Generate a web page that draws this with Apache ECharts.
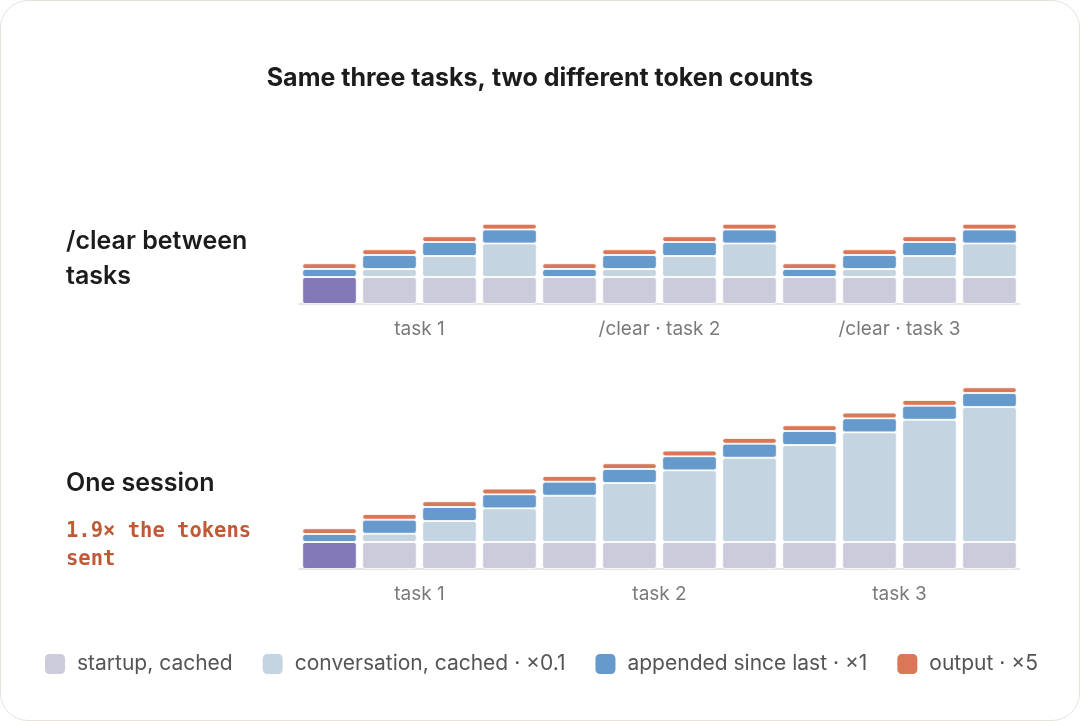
<!DOCTYPE html>
<html>
<head>
<meta charset="utf-8">
<script src="https://cdn.jsdelivr.net/npm/echarts@6/dist/echarts.min.js"></script>
<style>
  html, body { margin: 0; padding: 0; background: #ffffff; }
  #card {
    position: absolute; left: 0; top: 0; width: 1080px; height: 721px;
    box-sizing: border-box; border: 1.5px solid #e5e3da; border-radius: 28px;
  }
  #report { position: absolute; left: 0; top: 0; width: 1080px; height: 721px; }
</style>
</head>
<body>
<div id="card"></div>
<div id="report"></div>
<script>
// one entry per request sent to the model
var steps = ['1', '2', '3', '4', '5', '6', '7', '8', '9', '10', '11', '12'];
var groupsClear = ['task 1', '/clear · task 2', '/clear · task 3'];
var groupsSession = ['task 1', 'task 2', 'task 3'];
var seriesNames = ['startup, cached', 'conversation, cached · ×0.1', 'appended since last · ×1', 'output · ×5'];

// weighted token cost of each part
var startup = [27, 27, 27, 27, 27, 27, 27, 27, 27, 27, 27, 27];
var clearConversation = [0, 8, 21, 33.5, 0, 8, 21, 33.5, 0, 8, 21, 33.5];
var clearAppended = [8, 14, 14, 14, 8, 14, 14, 14, 8, 14, 14, 14];
var sessionConversation = [0, 8.3, 21, 33.7, 46.3, 59, 71.7, 84.3, 97, 109.7, 122.3, 135];
var sessionAppended = [8, 14, 14, 14, 14, 14, 14, 14, 14, 14, 14, 14];
var output = [5.7, 5.7, 5.7, 5.7, 5.7, 5.7, 5.7, 5.7, 5.7, 5.7, 5.7, 5.7];

var colors = ['#cccbdc', '#c5d4e1', '#6699cc', '#d97757'];
var firstStartupColor = '#8379b8';
var font = 'Inter';

var myChart = echarts.init(document.getElementById('report'));

function startupData() {
	// the very first request pays for the uncached startup
	return startup.map(function(v, i) {
		return i === 0 ? { value: v, itemStyle: { color: firstStartupColor } } : v;
	});
}

function stackSeries(grid, stack, conversation, appended) {
	var parts = [startupData(), conversation, appended, output];
	return parts.map(function(d, k) {
		return {
			name: seriesNames[k],
			type: 'bar',
			stack: stack,
			xAxisIndex: grid * 2,
			yAxisIndex: grid,
			barWidth: 54.5,
			data: d,
			itemStyle: { color: colors[k], borderColor: '#ffffff', borderWidth: 0.85, borderRadius: 2.5 },
			emphasis: { disabled: true }
		};
	});
}

function barAxis(grid) {
	return {
		type: 'category', gridIndex: grid, data: steps,
		axisLine: { show: true, lineStyle: { color: '#e4e4e4', width: 2 } },
		axisTick: { show: false }, axisLabel: { show: false }
	};
}

function groupAxis(grid, names) {
	return {
		type: 'category', gridIndex: grid, data: names, position: 'bottom',
		axisLine: { show: false }, axisTick: { show: false },
		axisLabel: { margin: 16, fontFamily: font, fontSize: 19, color: '#7a7a7a' }
	};
}

var option = {
	animation: false,
	title: [
		{
			text: 'Same three tasks, two different token counts',
			left: 'center', top: 66, padding: 0,
			textStyle: { fontFamily: font, fontSize: 25, fontWeight: 700, color: '#1c1c1c' }
		},
		{
			text: '/clear between\ntasks',
			left: 66, top: 224, padding: 0,
			textStyle: { fontFamily: font, fontSize: 25, fontWeight: 600, color: '#1c1c1c', lineHeight: 35 }
		},
		{
			text: 'One session',
			left: 66, top: 466, padding: 0,
			textStyle: { fontFamily: font, fontSize: 25, fontWeight: 600, color: '#1c1c1c', lineHeight: 35 }
		},
		{
			text: '1.9× the tokens\nsent',
			left: 66, top: 518, padding: 0,
			textStyle: { fontFamily: 'DejaVu Sans Mono', fontSize: 20.5, fontWeight: 'bold', color: '#c05a35', lineHeight: 28 }
		}
	],
	legend: {
		data: seriesNames,
		left: 43, top: 652, padding: 0,
		icon: 'roundRect', itemWidth: 22, itemHeight: 22, itemGap: 28,
		selectedMode: false,
		textStyle: { fontFamily: font, fontSize: 21, color: '#555555', padding: [0, 0, 0, 6] }
	},
	grid: [
		{ left: 299.5, width: 720, top: 214, height: 90 },
		{ left: 299.5, width: 720, top: 379, height: 190 }
	],
	xAxis: [barAxis(0), groupAxis(0, groupsClear), barAxis(1), groupAxis(1, groupsSession)],
	yAxis: [
		{ type: 'value', gridIndex: 0, min: 0, max: 90, show: false },
		{ type: 'value', gridIndex: 1, min: 0, max: 190, show: false }
	],
	series: stackSeries(0, 'clear', clearConversation, clearAppended)
		.concat(stackSeries(1, 'session', sessionConversation, sessionAppended))
};
myChart.setOption(option);
</script>
</body>
</html>
